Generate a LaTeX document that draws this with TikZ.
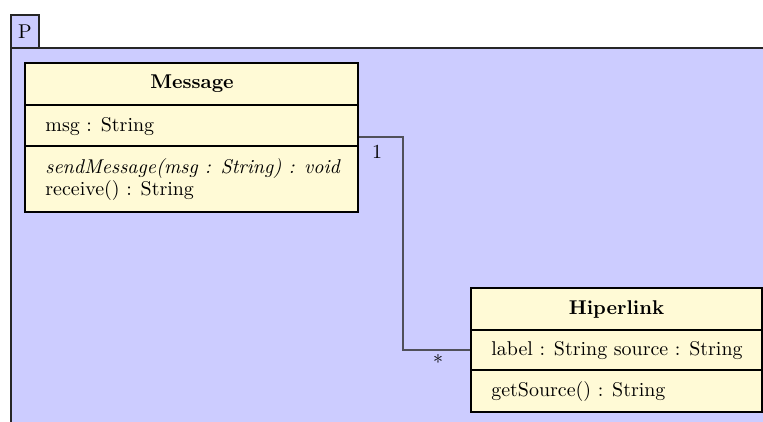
\documentclass[tikz,border=0pt]{standalone}
\usetikzlibrary{fit}
\definecolor{pkgfill}{RGB}{204,204,255}
\definecolor{classfill}{RGB}{255,250,214}
\definecolor{linkgray}{RGB}{80,80,90}
\tikzset{
  pkgline/.style={draw=black!85, line width=0.55pt, fill=pkgfill},
  classbox/.style={draw=black, line width=1.1pt, fill=classfill, inner sep=0pt},
  sepline/.style={draw=black, line width=1.1pt},
  member/.style={anchor=base west, inner sep=0pt},
  title/.style={anchor=base, inner sep=0pt, font=\bfseries},
  assoc/.style={draw=linkgray, line width=0.65pt},
  mult/.style={inner sep=0pt, anchor=base}
}
\begin{document}
\begin{tikzpicture}[x=0.5016pt, y=-0.5016pt]
  \useasboundingbox (0,0) rectangle (763,421);
  % package P: tab and body (body runs past the page edge)
  \path[pkgline] (11,48) rectangle (790,450);
  \node[pkgline, fit={(11,15) (39,48)}, inner sep=0pt] (tab) {};
  \node at (tab.center) {P};

  % class Message
  \node[classbox, fit={(25,63) (358,212)}] (msg) {};
  \draw[sepline] (25,105) -- (358,105);
  \draw[sepline] (25,146) -- (358,146);
  \node[title] (msgname) at (192,88) {Message};
  \node[member] (msgattr) at (45,131) {msg : String};
  \node[member] (msgop1) at (45,173) {\itshape sendMessage(msg : String) : void};
  \node[member] (msgop2) at (45,195) {receive() : String};

  % class Hiperlink
  \node[classbox, fit={(471,288) (762,412)}] (hip) {};
  \draw[sepline] (471,330) -- (762,330);
  \draw[sepline] (471,370) -- (762,370);
  \node[title] (hipname) at (616.5,314) {Hiperlink};
  \node[member] (hipattr) at (491,355) {label : String source : String};
  \node[member] (hipop) at (491,396) {getSource() : String};

  % association
  \coordinate (bend) at (403,137);
  \draw[assoc] (msg.east |- bend) -- (bend) |- (hip.west);
  \node[mult] (m1) at (377,158) {1};
  \node[mult] (m2) at (438,369) {*};
\end{tikzpicture}
\end{document}
